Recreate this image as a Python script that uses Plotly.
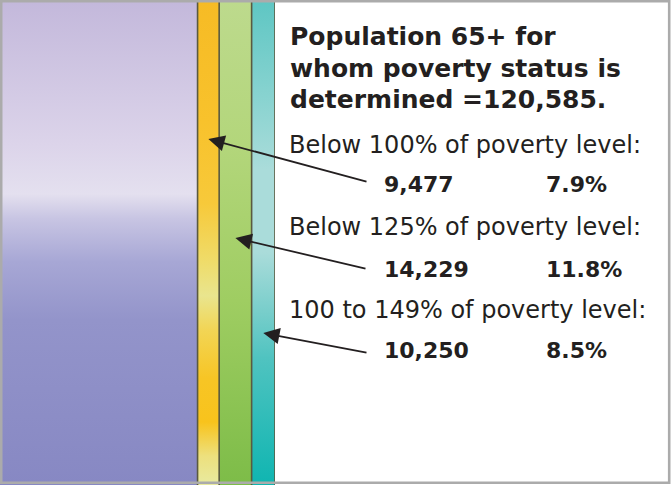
import plotly.graph_objects as go

# ---------------- data ----------------
total_pop = 120585
group_labels = ["Below 100% of poverty level:", "Below 125% of poverty level:", "100 to 149% of poverty level:"]
group_counts = [9477, 14229, 10250]
group_pct_labels = ["7.9%", "11.8%", "8.5%"]

rest_count = total_pop - sum(group_counts)
seg_counts = [rest_count] + group_counts
seg_pcts = [c / total_pop * 100 for c in seg_counts]

# vertical gradients (0 = top, 1 = bottom)
seg_scales = [
    [[0, "#c3b8db"], [0.3, "#dcd4ea"], [0.4, "#e4e0ef"], [0.45, "#c8c5e3"], [0.54, "#a7a7d5"],
     [0.66, "#9394ca"], [1, "#8788c3"]],
    [[0, "#f6bb25"], [0.25, "#f8c22c"], [0.42, "#f7c93a"], [0.54, "#efdc6a"], [0.61, "#e9e58e"],
     [0.68, "#f2d555"], [0.78, "#f7c525"], [0.87, "#f8c31c"], [0.94, "#ede07d"], [1, "#e8eaa0"]],
    [[0, "#bdda8d"], [0.3, "#b3d67b"], [0.62, "#9fcd62"], [1, "#7dbc48"]],
    [[0, "#5ec6c3"], [0.2, "#88d3d0"], [0.35, "#aadcda"], [0.52, "#aadcda"], [0.64, "#79cecb"],
     [0.74, "#4fc3c0"], [1, "#0fb5b1"]],
]

W, H = 671, 485
fig = go.Figure()

cum = [0]
for p in seg_pcts:
    cum.append(cum[-1] + p)

for i, p in enumerate(seg_pcts):
    x0, x1 = cum[i], cum[i + 1]
    fig.add_trace(go.Scatter(
        x=[x0, x1, x1, x0, x0], y=[0, 0, 1, 1, 0],
        mode="lines", line=dict(width=0), fill="toself",
        fillgradient=dict(type="vertical", colorscale=seg_scales[i], start=1, stop=0),
        hoverinfo="skip", showlegend=False,
    ))

# divider lines between strips
dx, dy = [], []
for b in cum[1:]:
    dx += [b, b, None]
    dy += [0, 1, None]
fig.add_trace(go.Scatter(x=dx, y=dy, mode="lines", line=dict(color="#5a5a40", width=1.6),
                         hoverinfo="skip", showlegend=False))

def px(x):
    return x / W

def py(y):
    return 1 - y / H

ann = []
FONT = "DejaVu Sans"
DARK = "#231f20"
title_lines = ["Population 65+ for", "whom poverty status is", f"determined ={total_pop:,}."]
for k, t in enumerate(title_lines):
    ann.append(dict(x=px(288), y=py(37 + k * 31.5), xref="paper", yref="paper", xanchor="left",
                    yanchor="middle", text=f"<b>{t}</b>", showarrow=False,
                    font=dict(family=FONT, size=25, color=DARK)))

label_y = [144.5, 226.5, 310]
num_y = [184, 269.5, 350]
tips_y = [139, 238, 333]
tails = [(368, 182), (367, 269), (368, 353)]
for k in range(3):
    ann.append(dict(x=px(287), y=py(label_y[k]), xref="paper", yref="paper", xanchor="left",
                    yanchor="middle", text=group_labels[k], showarrow=False,
                    font=dict(family=FONT, size=24, color=DARK)))
    ann.append(dict(x=px(382), y=py(num_y[k]), xref="paper", yref="paper", xanchor="left",
                    yanchor="middle", text=f"<b>{group_counts[k]:,}</b>", showarrow=False,
                    font=dict(family=FONT, size=22, color=DARK)))
    ann.append(dict(x=px(544), y=py(num_y[k]), xref="paper", yref="paper", xanchor="left",
                    yanchor="middle", text=f"<b>{group_pct_labels[k]}</b>", showarrow=False,
                    font=dict(family=FONT, size=22, color=DARK)))
    # arrow: tip at the middle of the strip
    xm = (cum[k + 1] + cum[k + 2]) / 2
    tip_px_x = xm / 100 * 275
    ann.append(dict(x=xm, y=py(tips_y[k]), xref="x", yref="paper", text="", showarrow=True,
                    ax=tails[k][0] - tip_px_x, ay=tails[k][1] - tips_y[k], axref="pixel", ayref="pixel",
                    arrowhead=2, arrowsize=1.8, arrowwidth=1.8, arrowcolor=DARK, standoff=0,
                    startstandoff=0))

fig.update_layout(
    width=W, height=H, margin=dict(l=0, r=0, t=0, b=0),
    paper_bgcolor="white", plot_bgcolor="white",
    xaxis=dict(domain=[0, 275 / W], range=[0, 100], visible=False, fixedrange=True),
    yaxis=dict(domain=[0, 1], range=[0, 1], visible=False, fixedrange=True),
    annotations=ann,
    shapes=[dict(type="rect", xref="paper", yref="paper", x0=1.2 / W, x1=1 - 1.8 / W,
                 y0=2.2 / H, y1=1 - 1.2 / H, line=dict(color="#ababab", width=2.6),
                 layer="above")],
)

fig.write_html("out.html", config={"staticPlot": True},
               post_script="document.body.style.margin='0';document.body.style.overflow='hidden';")
